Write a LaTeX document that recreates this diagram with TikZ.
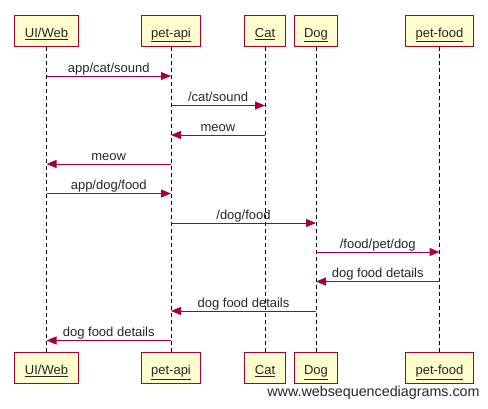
\documentclass[tikz,border=0pt]{standalone}
\usepackage{fontspec}
\setmainfont{Liberation Sans}
\usepackage{tikz}
\usetikzlibrary{arrows.meta, positioning}
\usepackage{xcolor}
\definecolor{seqred}{HTML}{A80036}
\definecolor{seqfill}{HTML}{FEFECE}
\tikzset{%
	participant/.style={
		rectangle,
		draw=seqred,
		fill=seqfill,
		line width=1bp,
		minimum height=31bp,
		inner xsep=10bp,
		text height=14bp,
		text depth=0.4bp,
		text=black!85,
		font=\fontsize{13bp}{15bp}\selectfont
	},
	lifeline/.style={
		draw=black,
		line width=1bp,
		dash pattern=on 4bp off 3bp
	},
	msg/.style={
		draw=seqred,
		line width=1bp,
		-{Triangle[length=10bp,width=8bp]}
	},
	msglabel/.style={
		midway,
		anchor=base,
		yshift=4bp,
		inner sep=0pt,
		text=black!85,
		font=\fontsize{13bp}{15bp}\selectfont
	},
}
\begin{document}
\begin{tikzpicture}[x=1bp, y=-1bp]
			\useasboundingbox (0,0) rectangle (488,408);
			% participants, top row
			\node[participant] (uitop) at (46.5,30.5) {\underline{UI/Web}};
			\node[participant] (apitop) at (171,30.5) {\underline{pet-api}};
			\node[participant] (cattop) at (265,30.5) {\underline{Cat}};
			\node[participant] (dogtop) at (316,30.5) {\underline{Dog}};
			\node[participant] (foodtop) at (439.5,30.5) {\underline{pet-food}};
			% participants, bottom row
			\node[participant] (uibot) at (46.5,368) {\underline{UI/Web}};
			\node[participant] (apibot) at (171,368) {\underline{pet-api}};
			\node[participant] (catbot) at (265,368) {\underline{Cat}};
			\node[participant] (dogbot) at (316,368) {\underline{Dog}};
			\node[participant] (foodbot) at (439.5,368) {\underline{pet-food}};
			% lifelines
			\foreach \p in {ui, api, cat, dog, food}
				\draw[lifeline] (\p top.south) -- (\p bot.north);
			% messages
			\draw[msg] (uitop |- 0,76) -- node[msglabel] {app/cat/sound} (apitop |- 0,76);
			\draw[msg] (apitop |- 0,105.5) -- node[msglabel] {/cat/sound} (cattop |- 0,105.5);
			\draw[msg] (cattop |- 0,135) -- node[msglabel] {meow} (apitop |- 0,135);
			\draw[msg] (apitop |- 0,164) -- node[msglabel] {meow} (uitop |- 0,164);
			\draw[msg] (uitop |- 0,193.5) -- node[msglabel] {app/dog/food} (apitop |- 0,193.5);
			\draw[msg] (apitop |- 0,223) -- node[msglabel] {/dog/food} (dogtop |- 0,223);
			\draw[msg] (dogtop |- 0,252) -- node[msglabel] {/food/pet/dog} (foodtop |- 0,252);
			\draw[msg] (foodtop |- 0,281.5) -- node[msglabel] {dog food details} (dogtop |- 0,281.5);
			\draw[msg] (dogtop |- 0,311) -- node[msglabel] {dog food details} (apitop |- 0,311);
			\draw[msg] (apitop |- 0,340.5) -- node[msglabel] {dog food details} (uitop |- 0,340.5);
			% watermark
			\node[inner sep=0pt, text=black!85, font=\fontsize{14.3bp}{16bp}\selectfont] (watermark) at (373.5,393) {www.websequencediagrams.com};
		\end{tikzpicture}
\end{document}
